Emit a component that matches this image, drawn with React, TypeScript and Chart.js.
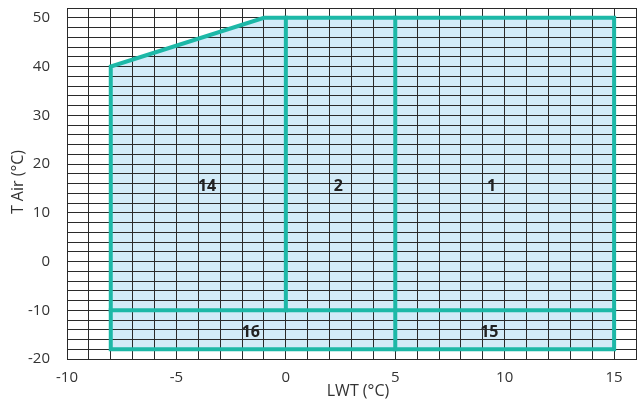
import React, { useEffect, useRef } from "react";
import { Chart, registerables } from "chart.js";

Chart.register(...registerables);

// Operating envelope (LWT °C, T Air °C)
const envelopeTopX = [-8, -1, 15];
const envelopeTopY = [40, 50, 50];
const envelopeBottom = -18;

const outlineX = [-8, -8, -1, 15, 15, -8];
const outlineY = [-18, 40, 50, 50, -18, -18];

const divider0X = [0, 0];
const divider0Y = [-10, 50];
const divider5X = [5, 5];
const divider5Y = [-18, 50];
const dividerHX = [-8, 15];
const dividerHY = [-10, -10];

const zoneLabels = ["14", "2", "1", "16", "15"];
const zoneLabelX = [-3.6, 2.4, 9.4, -1.6, 9.3];
const zoneLabelY = [15.4, 15.4, 15.4, -14.6, -14.6];

const xTickLabels = [-10, -5, 0, 5, 10, 15];
const yTickLabels = [-20, -10, 0, 10, 20, 30, 40, 50];

const xTitle = "LWT (°C)";
const yTitle = "T Air (°C)";

const TEAL = "#1db8a7";
const FILL = "#d2ebf8";
const GRID = "#2a2a2a";
const TEXT = "#333333";
const FONT = "'Open Sans', 'Noto Sans', sans-serif";

const pts = (xs: number[], ys: number[]) => xs.map((x, i) => ({ x, y: ys[i] }));

export default function App() {
  const ref = useRef<HTMLCanvasElement | null>(null);

  useEffect(() => {
    document.body.style.margin = "0";
    const canvas = ref.current;
    if (!canvas) return;

    const lineDs = (xs: number[], ys: number[]) => ({
      data: pts(xs, ys),
      borderColor: TEAL,
      borderWidth: 4,
      pointRadius: 0,
      fill: false,
      tension: 0,
      borderCapStyle: "square" as const,
      borderJoinStyle: "miter" as const,
    });

    const textPlugin = {
      id: "zoneText",
      afterDatasetsDraw(chart: any) {
        const { ctx, scales } = chart;
        const xs = scales.x;
        const ys = scales.y;
        ctx.save();
        ctx.fillStyle = "#222";
        ctx.font = `bold 16px ${FONT}`;
        ctx.textAlign = "center";
        ctx.textBaseline = "middle";
        zoneLabels.forEach((t, i) => {
          ctx.fillText(t, xs.getPixelForValue(zoneLabelX[i]), ys.getPixelForValue(zoneLabelY[i]));
        });
        ctx.restore();
      },
      afterDraw(chart: any) {
        const { ctx } = chart;
        ctx.save();
        ctx.fillStyle = TEXT;
        ctx.font = `16px ${FONT}`;
        ctx.textAlign = "center";
        ctx.textBaseline = "middle";
        ctx.fillText(xTitle, 358, 391);
        ctx.translate(18, 182);
        ctx.rotate(-Math.PI / 2);
        ctx.fillText(yTitle, 0, 0);
        ctx.restore();
      },
    };

    const chart = new Chart(canvas, {
      type: "line",
      data: {
        datasets: [
          {
            data: pts(envelopeTopX, envelopeTopY),
            borderWidth: 0,
            borderColor: "rgba(0,0,0,0)",
            backgroundColor: FILL,
            pointRadius: 0,
            fill: { value: envelopeBottom },
            tension: 0,
          } as any,
          lineDs(outlineX, outlineY),
          lineDs(divider0X, divider0Y),
          lineDs(divider5X, divider5Y),
          lineDs(dividerHX, dividerHY),
        ],
      },
      options: {
        responsive: false,
        animation: false,
        layout: { padding: { top: 8, right: 2, left: 0, bottom: 0 } },
        plugins: {
          legend: { display: false },
          tooltip: { enabled: false },
          filler: { drawTime: "beforeDraw" },
        } as any,
        scales: {
          x: {
            type: "linear",
            min: -10,
            max: 16,
            afterFit: (s: any) => {
              s.height = 42;
              s.paddingLeft = 0;
              s.paddingRight = 0;
            },
            border: { display: true, color: GRID, width: 1 },
            grid: { color: GRID, lineWidth: 1, drawTicks: false },
            ticks: {
              stepSize: 1,
              autoSkip: false,
              maxRotation: 0,
              padding: 10,
              color: TEXT,
              font: { family: FONT, size: 15 },
              callback: (v: any) => (xTickLabels.includes(Number(v)) ? String(v) : ""),
            },
          },
          y: {
            type: "linear",
            min: -20,
            max: 52,
            afterFit: (s: any) => {
              s.width = 67;
              s.paddingTop = 0;
              s.paddingBottom = 0;
            },
            border: { display: true, color: GRID, width: 1 },
            grid: { color: GRID, lineWidth: 1, drawTicks: false },
            ticks: {
              stepSize: 2,
              autoSkip: false,
              padding: 17,
              color: TEXT,
              font: { family: FONT, size: 15 },
              callback: (v: any) => (yTickLabels.includes(Number(v)) ? String(v) : ""),
            },
          },
        },
      },
      plugins: [textPlugin],
    });

    return () => chart.destroy();
  }, []);

  return (
    <div style={{ width: 638, height: 401 }}>
      <canvas ref={ref} width={638} height={401} />
    </div>
  );
}
